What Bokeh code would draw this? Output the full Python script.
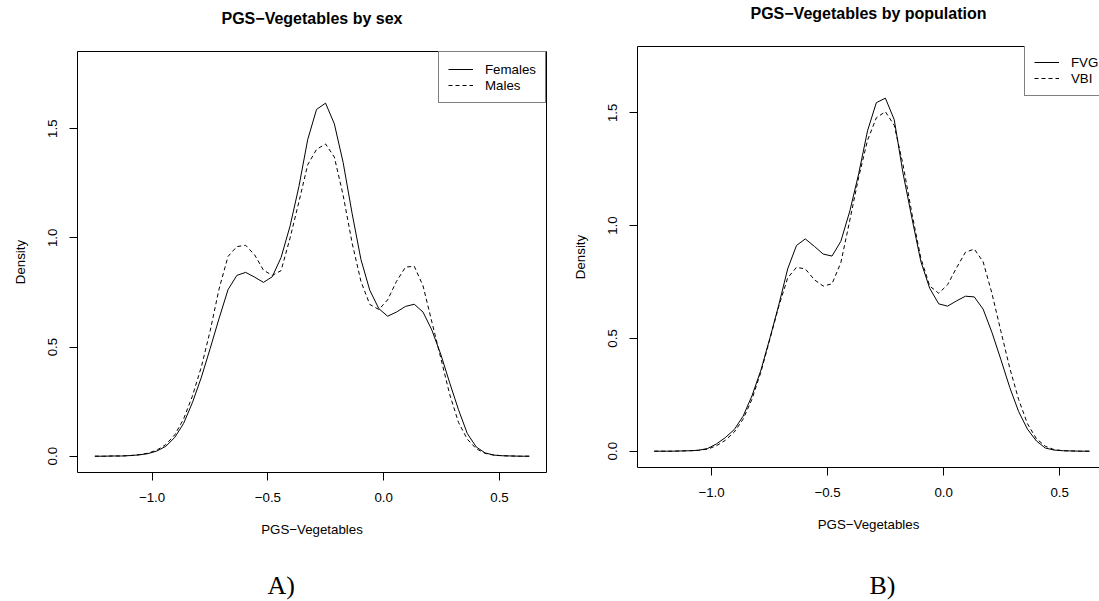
from bokeh.plotting import figure
from bokeh.models import Range1d, LinearAxis, FixedTicker, Title
from bokeh.layouts import row, column
from bokeh.embed import file_html
from bokeh.resources import INLINE

# ---------------- data ----------------
pgs = [-1.247, -1.209, -1.170, -1.132, -1.094, -1.056, -1.017, -0.979, -0.941, -0.902,
       -0.864, -0.826, -0.787, -0.749, -0.711, -0.672, -0.634, -0.596, -0.557, -0.519,
       -0.481, -0.443, -0.404, -0.366, -0.328, -0.290, -0.251, -0.213, -0.175, -0.136,
       -0.098, -0.060, -0.021, 0.017, 0.055, 0.094, 0.132, 0.170, 0.208, 0.247,
       0.285, 0.323, 0.361, 0.400, 0.438, 0.476, 0.515, 0.553, 0.591, 0.629]

females = [0.000, 0.000, 0.001, 0.001, 0.003, 0.006, 0.012, 0.024, 0.045, 0.086,
           0.150, 0.245, 0.362, 0.494, 0.630, 0.763, 0.828, 0.842, 0.820, 0.796,
           0.822, 0.910, 1.055, 1.235, 1.450, 1.588, 1.617, 1.522, 1.345, 1.110,
           0.900, 0.760, 0.676, 0.641, 0.660, 0.686, 0.696, 0.660, 0.578, 0.465,
           0.336, 0.213, 0.104, 0.042, 0.015, 0.005, 0.002, 0.001, 0.000, 0.000]

males = [0.000, 0.000, 0.001, 0.001, 0.003, 0.007, 0.014, 0.028, 0.053, 0.098,
         0.170, 0.275, 0.410, 0.575, 0.765, 0.915, 0.960, 0.966, 0.922, 0.852,
         0.828, 0.850, 1.000, 1.165, 1.335, 1.405, 1.430, 1.370, 1.195, 0.975,
         0.800, 0.695, 0.672, 0.716, 0.800, 0.866, 0.870, 0.780, 0.615, 0.448,
         0.283, 0.155, 0.078, 0.034, 0.013, 0.005, 0.002, 0.001, 0.000, 0.000]

fvg = [0.000, 0.000, 0.000, 0.001, 0.002, 0.004, 0.012, 0.032, 0.060, 0.096,
       0.155, 0.245, 0.360, 0.500, 0.645, 0.808, 0.912, 0.941, 0.908, 0.874,
       0.865, 0.930, 1.065, 1.230, 1.420, 1.545, 1.565, 1.470, 1.232, 1.030,
       0.840, 0.722, 0.653, 0.643, 0.666, 0.687, 0.684, 0.630, 0.527, 0.405,
       0.282, 0.176, 0.098, 0.045, 0.014, 0.005, 0.002, 0.001, 0.000, 0.000]

vbi = [0.000, 0.000, 0.000, 0.001, 0.002, 0.004, 0.009, 0.024, 0.048, 0.085,
       0.142, 0.230, 0.352, 0.495, 0.640, 0.768, 0.815, 0.808, 0.760, 0.732,
       0.742, 0.835, 1.025, 1.215, 1.378, 1.478, 1.505, 1.445, 1.270, 1.050,
       0.855, 0.732, 0.700, 0.738, 0.812, 0.882, 0.896, 0.840, 0.700, 0.530,
       0.368, 0.230, 0.122, 0.055, 0.022, 0.007, 0.002, 0.001, 0.000, 0.000]

x_ticks = [-1.0, -0.5, 0.0, 0.5]
x_tick_labels = ["\u22121.0", "\u22120.5", "0.0", "0.5"]
y_ticks = [0.0, 0.5, 1.0, 1.5]
y_tick_labels = ["0.0", "0.5", "1.0", "1.5"]

FONT = "Liberation Sans"
INK = "#000000"


def blank_axis(axis, line=True):
    axis.ticker = FixedTicker(ticks=[])
    axis.major_tick_out = 0
    axis.major_tick_in = 0
    axis.minor_tick_out = 0
    axis.minor_tick_in = 0
    axis.major_label_standoff = 0
    axis.axis_line_color = INK if line else None
    axis.axis_line_width = 1
    return axis


def make_panel(title, names, series, x_range, y_range, frame_w, borders,
               caption, caption_offset, caption_gap):
    bl, br, bt, bb = borders
    p = figure(frame_width=frame_w, frame_height=421,
               x_range=Range1d(*x_range), y_range=Range1d(*y_range),
               output_backend="svg", toolbar_location=None,
               min_border_left=bl, min_border_right=br, min_border_top=bt, min_border_bottom=bb)
    p.outline_line_color = None
    p.background_fill_color = "white"
    p.border_fill_color = "white"
    p.xgrid.visible = False
    p.ygrid.visible = False

    xa = p.xaxis[0]
    xa.ticker = FixedTicker(ticks=x_ticks)
    xa.major_label_overrides = {t: s for t, s in zip(x_ticks, x_tick_labels)}
    xa.axis_label = "PGS\u2212Vegetables"
    ya = p.yaxis[0]
    ya.ticker = FixedTicker(ticks=y_ticks)
    ya.major_label_overrides = {t: s for t, s in zip(y_ticks, y_tick_labels)}
    ya.axis_label = "Density"
    ya.major_label_orientation = "vertical"
    for ax in (xa, ya):
        ax.axis_line_color = INK
        ax.axis_line_width = 1
        ax.major_tick_line_color = INK
        ax.major_tick_out = 8
        ax.major_tick_in = 0
        ax.minor_tick_out = 0
        ax.minor_tick_in = 0
        ax.major_label_text_font = FONT
        ax.major_label_text_font_size = "13.3px"
        ax.major_label_text_color = INK
        ax.axis_label_text_font = FONT
        ax.axis_label_text_font_size = "13.3px"
        ax.axis_label_text_font_style = "normal"
        ax.axis_label_text_color = INK
    xa.major_label_standoff = 12
    xa.axis_label_standoff = 17
    ya.major_label_standoff = 12
    ya.axis_label_standoff = 18

    # top border of the box, carrying the title
    top = blank_axis(LinearAxis())
    top.axis_label = title
    top.axis_label_text_font = FONT
    top.axis_label_text_font_size = "16px"
    top.axis_label_text_font_style = "bold"
    top.axis_label_text_color = INK
    top.axis_label_standoff = 25
    p.add_layout(top, "above")

    styles = [dict(line_dash="solid"), dict(line_dash="4 3")]
    for name, vals, st in zip(names, series, styles):
        p.line(pgs, vals, line_color=INK, line_width=1, legend_label=name, **st)

    lg = p.legend[0]
    lg.border_line_color = INK
    lg.border_line_width = 1
    lg.background_fill_color = "white"
    lg.background_fill_alpha = 1.0
    lg.margin = 0
    lg.padding = 9
    lg.spacing = 0
    lg.glyph_width = 25
    lg.glyph_height = 16
    lg.label_height = 16
    lg.label_standoff = 12
    lg.label_text_font = FONT
    lg.label_text_font_size = "13.3px"
    lg.label_text_color = INK

    # empty gap below the x axis (a blank axis whose label is a single space)
    gap = blank_axis(LinearAxis(), line=False)
    gap.axis_label = " "
    gap.axis_label_text_font_size = "1px"
    gap.axis_label_standoff = caption_gap
    p.add_layout(gap, "below")
    # the panel caption
    cap = Title(text=caption, align="left", offset=caption_offset, vertical_align="top",
                standoff=0, text_font="Liberation Serif", text_font_size="26px",
                text_font_style="normal", text_color=INK)
    p.add_layout(cap, "below")
    return p


p1 = make_panel("PGS\u2212Vegetables by sex", ["Females", "Males"], [females, males],
                (-1.322, 0.703), (-0.0746, 1.8535), 469, (77, 19, 51, 129),
                "A)", 190, 27)
p1.add_layout(blank_axis(LinearAxis()), "right")
p1.legend[0].location = "top_right"

p2 = make_panel("PGS\u2212Vegetables by population", ["FVG", "VBI"], [fvg, vbi],
                (-1.319, 0.6715), (-0.0723, 1.794), 462, (72, 0, 46, 134),
                "B)", 232, 32)
p2.legend[0].location = (387, 371)

layout = row(column(p1), column(p2))
open("out.html", "w").write(file_html(layout, INLINE))
